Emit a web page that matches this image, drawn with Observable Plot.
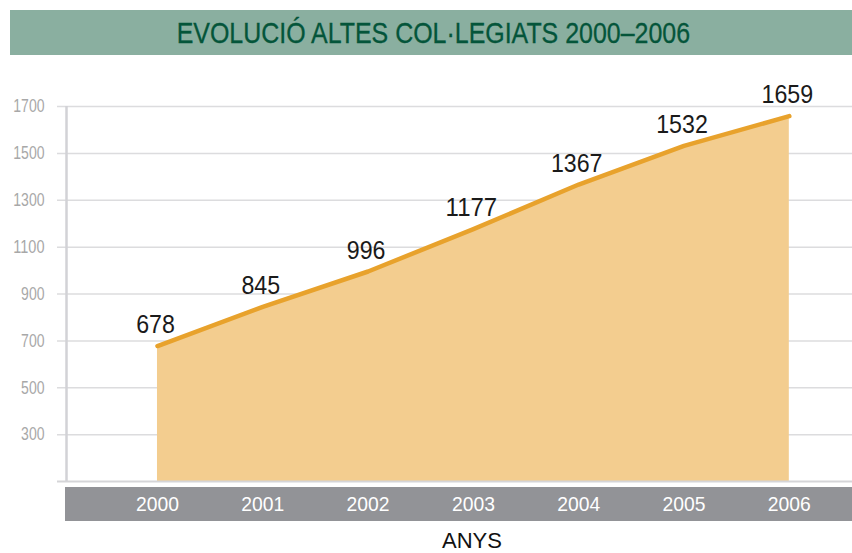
<!DOCTYPE html>
<html>
<head>
<meta charset="utf-8">
<script src="https://cdn.jsdelivr.net/npm/d3@7"></script>
<script src="https://cdn.jsdelivr.net/npm/@observablehq/plot@0.6"></script>
<style>
  html, body { margin: 0; padding: 0; background: #fff; }
  #wrap { position: relative; width: 852px; height: 553px; overflow: hidden; }
  #title {
    position: absolute; left: 10px; top: 10px; width: 842px; height: 45px;
    background: #8aafa0; color: #04553a;
    font-family: "Liberation Sans", Arial, sans-serif;
    font-size: 29px; line-height: 47px; text-align: center; text-indent: 2px;
  }
  #title span { display: inline-block; transform: scaleX(0.86); transform-origin: 50% 50%; -webkit-text-stroke: 0.3px #04553a; }
  #band {
    position: absolute; left: 65px; top: 487px; width: 787px; height: 34px;
    background: #929397; z-index: 0;
  }
  #xlabel {
    position: absolute; left: 372px; width: 200px; top: 530px; text-align: center;
    font-family: "Liberation Sans", Arial, sans-serif; font-size: 22px; line-height: 22px; color: #111;
  }
  #chart { position: absolute; left: 0; top: 0; z-index: 1; }
  #chart svg { background: transparent !important; }
</style>
</head>
<body>
<div id="wrap">
  <div id="title"><span>EVOLUCIÓ ALTES COL·LEGIATS 2000–2006</span></div>
  <div id="band"></div>
  <div id="chart"></div>
  <div id="xlabel">ANYS</div>
</div>
<script>
const years = [2000, 2001, 2002, 2003, 2004, 2005, 2006];
const altes = [678, 845, 996, 1177, 1367, 1532, 1659];
const yTicks = [300, 500, 700, 900, 1100, 1300, 1500, 1700];
const yMin = 100;
const yMax = 1700;
const xDomain = [1999.136, 2006.6];

const data = years.map((year, i) => ({year, value: altes[i]}));
const font = "Liberation Sans, Arial, sans-serif";

const chart = Plot.plot({
  width: 852,
  height: 553,
  marginLeft: 66,
  marginRight: 0,
  marginTop: 106,
  marginBottom: 72,
  style: {background: "transparent", fontFamily: font},
  x: {domain: xDomain, axis: null},
  y: {domain: [yMin, yMax], axis: null},
  marks: [
    Plot.ruleY(yTicks, {stroke: "#dcdcde", strokeWidth: 1.5, insetLeft: -9}),
    Plot.areaY(data, {x: "year", y1: yMin, y2: "value", fill: "#f3cd8f"}),
    Plot.lineY(data, {x: "year", y: "value", stroke: "#e8a22c", strokeWidth: 4.5}),
    Plot.ruleY([yMin], {stroke: "#d5d5d8", strokeWidth: 2, insetLeft: -9}),
    Plot.ruleX([xDomain[0]], {y1: yMin, y2: yMax, stroke: "#d2d2d6", strokeWidth: 2.5}),
    Plot.axisY({ticks: yTicks, tickFormat: d => String(d), tickSize: 0, tickPadding: 22, fontSize: 18, color: "#a8a8a8", label: null, fontFamily: font}),
    Plot.axisX({ticks: years, tickFormat: d => String(d), tickSize: 0, tickPadding: 15, fontSize: 21, color: "#ffffff", label: null, fontFamily: font}),
    Plot.text(data, {x: "year", y: "value", text: d => String(d.value), dy: -21, dx: -2, fontSize: 26, fill: "#1a1a1a", fontFamily: font})
  ]
});

// condense the glyphs horizontally (the original uses a condensed face)
function condense(selector, perChar) {
  d3.select(chart).selectAll(selector)
    .attr("textLength", function () { return this.textContent.length * perChar; })
    .attr("lengthAdjust", "spacingAndGlyphs");
}
condense('g[aria-label="y-axis tick label"] text', 7.8);
condense('g[aria-label="x-axis tick label"] text', 10.75);
condense('g[aria-label="text"] text', 12.9);

document.getElementById("chart").appendChild(chart);
</script>
</body>
</html>
